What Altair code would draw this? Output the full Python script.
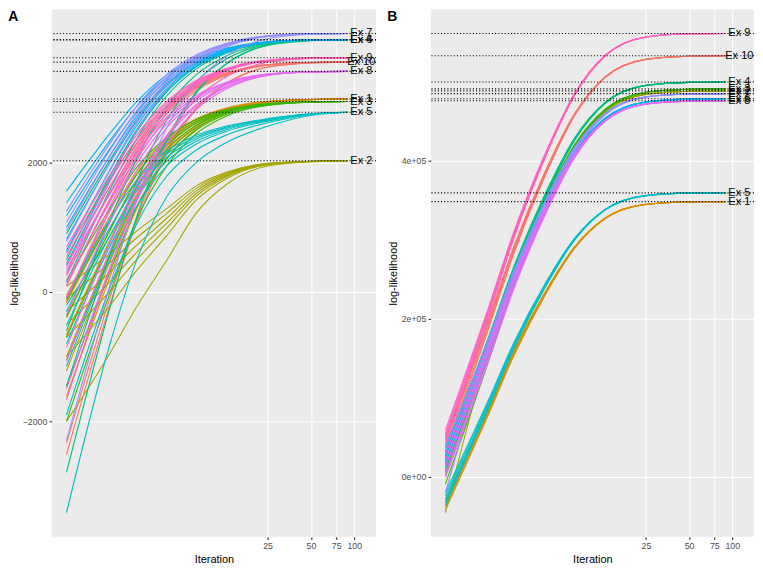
import altair as alt
import pandas as pd

FONT = "Liberation Sans"

ITERS = [1, 2, 3, 5, 8, 13, 25, 50, 90]
EXAMPLES = ["Ex 10", "Ex 1", "Ex 2", "Ex 3", "Ex 4", "Ex 5", "Ex 6", "Ex 7", "Ex 8", "Ex 9"]
PALETTE = ["#F8766D", "#D89000", "#A3A500", "#39B600", "#00BF7D",
           "#00BFC4", "#00B0F6", "#9590FF", "#E76BF3", "#FF62BC"]

# final log-likelihood per example (dotted lines + labels), same order as EXAMPLES
A_FINAL = [3557, 2985, 2030, 2947, 3905, 2782, 3900, 4000, 3414, 3624]
B_FINAL = [532900, 348300, 488500, 491000, 499700, 359400, 478500, 485000, 476000, 561200]

X_MAJOR = [25, 50, 75, 100]
X_MINOR = [12.5, 35.4, 61.2, 86.6]
LABEL_ITER = 112

A_Y_TICKS = [-2000, 0, 2000]
A_Y_LABELS = ["\u22122000", "0", "2000"]
A_Y_MINOR = [-3000, -1000, 1000, 3000]
B_Y_TICKS = [0, 200000, 400000]
B_Y_LABELS = ["0e+00", "2e+05", "4e+05"]
B_Y_MINOR = [100000, 300000, 500000]

# ---- panel A runs (one list per start, values at ITERS)
A_EX10 = [
    [620, 1736, 2323, 2881, 3205, 3395, 3519, 3551, 3557],
    [450, 1631, 2252, 2842, 3184, 3386, 3517, 3551, 3557],
    [280, 1525, 2181, 2803, 3164, 3377, 3514, 3550, 3557],
    [100, 1414, 2105, 2762, 3142, 3367, 3512, 3550, 3557],
    [-150, 1259, 2000, 2704, 3112, 3353, 3509, 3550, 3557],
    [-2340, -99, 1080, 2201, 2849, 3233, 3480, 3545, 3557],
    [-2515, -208, 1007, 2160, 2828, 3223, 3478, 3545, 3557],
]
A_EX1 = [
    [-50, 1164, 1832, 2378, 2681, 2848, 2949, 2979, 2985],
    [-165, 1095, 1788, 2355, 2670, 2843, 2947, 2979, 2985],
    [-400, 954, 1699, 2308, 2646, 2833, 2944, 2978, 2985],
    [-660, 798, 1600, 2256, 2620, 2821, 2941, 2978, 2985],
    [-1000, 594, 1471, 2188, 2586, 2806, 2937, 2977, 2985],
    [-1220, 462, 1387, 2144, 2564, 2796, 2935, 2977, 2985],
    [-1610, 228, 1239, 2066, 2525, 2778, 2930, 2976, 2985],
]
A_EX2 = [
    [90, 594, 924, 1293, 1642, 1855, 1991, 2022, 2030],
    [-100, 454, 816, 1221, 1604, 1838, 1987, 2021, 2030],
    [-300, 306, 702, 1145, 1564, 1820, 1983, 2021, 2030],
    [-500, 158, 588, 1069, 1524, 1802, 1979, 2020, 2030],
    [-700, 10, 474, 993, 1484, 1784, 1975, 2019, 2030],
    [-1000, -212, 303, 879, 1424, 1757, 1969, 2018, 2030],
    [-2000, -952, -267, 499, 1224, 1667, 1949, 2014, 2030],
]
A_EX3 = [
    [180, 1287, 1896, 2394, 2670, 2822, 2914, 2941, 2947],
    [-120, 1107, 1782, 2334, 2640, 2809, 2910, 2941, 2947],
    [-380, 951, 1683, 2282, 2614, 2797, 2907, 2940, 2947],
    [-700, 759, 1561, 2218, 2582, 2783, 2903, 2940, 2947],
    [-1050, 549, 1428, 2148, 2547, 2767, 2899, 2939, 2947],
    [-1460, 303, 1272, 2066, 2506, 2749, 2894, 2938, 2947],
    [-2000, -21, 1067, 1958, 2452, 2724, 2888, 2937, 2947],
]
A_EX4 = [
    [900, 2041, 2642, 3212, 3543, 3738, 3864, 3897, 3905],
    [500, 1793, 2474, 3120, 3495, 3716, 3859, 3896, 3905],
    [150, 1576, 2327, 3040, 3453, 3697, 3854, 3895, 3905],
    [-200, 867, 1564, 2344, 3082, 3534, 3821, 3887, 3905],
    [-600, 1111, 2012, 2867, 3363, 3655, 3844, 3894, 3905],
    [-1460, 578, 1651, 2670, 3259, 3608, 3833, 3892, 3905],
    [-2790, -247, 1092, 2364, 3100, 3535, 3816, 3890, 3905],
]
A_EX5 = [
    [-80, 1122, 1694, 2181, 2424, 2567, 2682, 2759, 2782],
    [-300, 994, 1611, 2135, 2397, 2551, 2674, 2757, 2782],
    [-520, 867, 1527, 2089, 2369, 2534, 2666, 2756, 2782],
    [-800, 704, 1421, 2030, 2334, 2513, 2657, 2753, 2782],
    [-1150, 501, 1288, 1956, 2290, 2487, 2644, 2751, 2782],
    [-1900, 66, 1003, 1799, 2197, 2431, 2618, 2745, 2782],
    [-3414, -812, 428, 1481, 2007, 2317, 2565, 2732, 2782],
]
A_EX6 = [
    [1560, 2450, 2919, 3364, 3622, 3774, 3873, 3898, 3900],
    [1380, 2339, 2843, 3323, 3600, 3764, 3870, 3898, 3900],
    [1180, 2215, 2759, 3277, 3576, 3753, 3868, 3898, 3900],
    [1000, 2103, 2684, 3235, 3555, 3743, 3865, 3897, 3900],
    [820, 1992, 2608, 3194, 3533, 3733, 3863, 3897, 3900],
    [640, 1880, 2533, 3153, 3511, 3724, 3861, 3896, 3900],
    [420, 1744, 2440, 3102, 3485, 3711, 3858, 3896, 3900],
]
A_EX7 = [
    [1250, 2295, 2845, 3368, 3670, 3849, 3964, 3995, 4000],
    [1080, 2190, 2774, 3328, 3650, 3839, 3962, 3994, 4000],
    [950, 2109, 2719, 3298, 3634, 3832, 3960, 3994, 4000],
    [780, 2004, 2648, 3259, 3614, 3823, 3958, 3994, 4000],
    [600, 1892, 2572, 3218, 3592, 3813, 3956, 3993, 4000],
    [300, 1706, 2446, 3149, 3556, 3796, 3952, 3993, 4000],
    [-2300, 94, 1354, 2551, 3244, 3653, 3918, 3987, 4000],
]
A_EX8 = [
    [350, 1514, 2127, 2709, 3046, 3245, 3374, 3408, 3414],
    [150, 1390, 2043, 2663, 3022, 3234, 3372, 3407, 3414],
    [-80, 1248, 1947, 2610, 2995, 3222, 3369, 3407, 3414],
    [-350, 1080, 1833, 2548, 2962, 3207, 3365, 3406, 3414],
    [-860, 764, 1619, 2431, 2901, 3179, 3358, 3405, 3414],
    [-1070, 634, 1531, 2383, 2876, 3167, 3356, 3405, 3414],
    [-1500, 367, 1350, 2284, 2824, 3144, 3350, 3404, 3414],
]
A_EX9 = [
    [700, 1811, 2396, 2951, 3273, 3463, 3586, 3618, 3624],
    [550, 1718, 2333, 2917, 3255, 3455, 3584, 3618, 3624],
    [400, 1625, 2270, 2882, 3237, 3447, 3582, 3618, 3624],
    [250, 1532, 2207, 2848, 3219, 3438, 3580, 3617, 3624],
    [100, 1439, 2144, 2813, 3201, 3430, 3578, 3617, 3624],
    [-100, 1315, 2060, 2767, 3177, 3419, 3576, 3617, 3624],
    [-1665, 345, 1403, 2408, 2989, 3333, 3555, 3613, 3624],
]

# ---- panel B runs
B_EX10 = [
    [50000, 199700, 291500, 388000, 460500, 506300, 528600, 532400, 532900],
    [46000, 196900, 289500, 386800, 459900, 506100, 528500, 532400, 532900],
    [42000, 194200, 287500, 385600, 459300, 505900, 528500, 532400, 532900],
    [37000, 190700, 285000, 384100, 458500, 505600, 528400, 532400, 532900],
    [32000, 187300, 282500, 382600, 457800, 505400, 528400, 532400, 532900],
]
B_EX1 = [
    [-29000, 88000, 159700, 235100, 291700, 327500, 344900, 347900, 348300],
    [-33000, 85200, 157700, 233900, 291100, 327300, 344900, 347900, 348300],
    [-36000, 83100, 156200, 233000, 290700, 327200, 344800, 347900, 348300],
    [-39000, 81100, 154700, 232100, 290200, 327000, 344800, 347900, 348300],
    [-42000, 79000, 153200, 231200, 289800, 326800, 344800, 347900, 348300],
]
B_EX2 = [
    [24000, 168000, 256300, 349200, 418800, 463000, 484300, 488000, 488500],
    [16000, 162500, 252300, 346800, 417600, 462500, 484200, 488000, 488500],
    [9000, 157600, 248800, 344700, 416600, 462100, 484200, 488000, 488500],
    [2000, 152800, 245300, 342600, 415500, 461700, 484100, 488000, 488500],
    [-45500, 157400, 242900, 339000, 413700, 461800, 484200, 488000, 488500],
]
B_EX3 = [
    [26000, 170200, 258500, 351500, 421300, 465400, 486800, 490500, 491000],
    [20000, 166000, 255500, 349700, 420400, 465100, 486800, 490500, 491000],
    [14000, 161900, 252500, 347900, 419500, 464800, 486700, 490500, 491000],
    [6000, 156400, 248500, 345500, 418300, 464300, 486600, 490500, 491000],
    [-9000, 146000, 241000, 341000, 416000, 463500, 486500, 490500, 491000],
]
B_EX4 = [
    [32000, 177000, 265900, 359400, 429500, 474000, 495500, 499200, 499700],
    [27000, 173500, 263400, 357900, 428800, 473700, 495400, 499200, 499700],
    [22000, 170100, 260900, 356400, 428000, 473400, 495400, 499200, 499700],
    [17000, 166600, 258400, 354900, 427300, 473200, 495400, 499200, 499700],
    [10000, 161800, 254900, 352800, 426200, 472800, 495300, 499200, 499700],
]
B_EX5 = [
    [-20000, 97600, 169700, 245600, 302500, 338500, 356000, 359000, 359400],
    [-24000, 94900, 167700, 244400, 301900, 338300, 356000, 359000, 359400],
    [-28000, 92100, 165700, 243200, 301300, 338100, 355900, 359000, 359400],
    [-32000, 89300, 163700, 242000, 300700, 337900, 355900, 359000, 359400],
    [-36000, 86600, 161700, 240800, 300100, 337700, 355800, 359000, 359400],
]
B_EX6 = [
    [38000, 174600, 258300, 346400, 412400, 454300, 474500, 478100, 478500],
    [31000, 169700, 254800, 344300, 411400, 453900, 474500, 478100, 478500],
    [25000, 165600, 251800, 342500, 410500, 453600, 474400, 478000, 478500],
    [17000, 160100, 247800, 340100, 409300, 453100, 474300, 478000, 478500],
    [5000, 151800, 241800, 336500, 407500, 452500, 474200, 478000, 478500],
]
B_EX7 = [
    [36000, 175200, 260500, 350300, 417700, 460300, 481000, 484600, 485000],
    [29000, 170400, 257000, 348200, 416600, 459900, 480900, 484500, 485000],
    [21000, 164800, 253000, 345800, 415400, 459500, 480800, 484500, 485000],
    [13000, 159300, 249000, 343400, 414200, 459000, 480800, 484500, 485000],
    [-20000, 161800, 247700, 338600, 411800, 458200, 480500, 484500, 485000],
]
B_EX8 = [
    [29000, 167600, 252500, 341900, 409000, 451400, 472000, 475600, 476000],
    [21000, 162100, 248500, 339500, 407800, 451000, 471900, 475500, 476000],
    [13000, 156500, 244500, 337100, 406600, 450500, 471800, 475500, 476000],
    [5000, 151000, 240500, 334700, 405400, 450100, 471800, 475500, 476000],
    [-1000, 146900, 237500, 332900, 404500, 449800, 471700, 475500, 476000],
]
B_EX9 = [
    [59000, 214700, 310100, 410500, 485900, 533600, 556700, 560700, 561200],
    [55000, 211900, 308100, 409300, 485300, 533400, 556600, 560700, 561200],
    [51000, 209200, 306100, 408100, 484700, 533100, 556600, 560700, 561200],
    [47000, 206400, 304100, 406900, 484100, 532900, 556600, 560700, 561200],
    [42000, 203000, 301600, 405400, 483300, 532600, 556500, 560700, 561200],
]

A_RUNS = [A_EX10, A_EX1, A_EX2, A_EX3, A_EX4, A_EX5, A_EX6, A_EX7, A_EX8, A_EX9]
B_RUNS = [B_EX10, B_EX1, B_EX2, B_EX3, B_EX4, B_EX5, B_EX6, B_EX7, B_EX8, B_EX9]


def long_table(runs_per_ex):
    rows = []
    for ex, runs in zip(EXAMPLES, runs_per_ex):
        for k, run in enumerate(runs):
            for it, v in zip(ITERS, run):
                rows.append({"ex": ex, "run": f"{ex}/{k}", "iter": it, "ll": v})
    return pd.DataFrame(rows)


def label_expr(values, labels):
    expr = f"'{labels[-1]}'"
    for v, lab in reversed(list(zip(values[:-1], labels[:-1]))):
        expr = f"datum.value == {v} ? '{lab}' : {expr}"
    return expr


def panel(tag, runs, finals, y_domain, y_ticks, y_labels, y_minor, w, h):
    xs = alt.Scale(type="log", domain=[0.79, 141.8], nice=False)
    ys = alt.Scale(domain=y_domain, nice=False, zero=False)
    finals_df = pd.DataFrame({"ex": EXAMPLES, "ll": finals, "iter": LABEL_ITER})

    lines = alt.Chart(long_table(runs)).mark_line(
        strokeWidth=1.1, interpolate="monotone"
    ).encode(
        x=alt.X("iter:Q", scale=xs,
                axis=alt.Axis(values=X_MAJOR, format="d", title="Iteration")),
        y=alt.Y("ll:Q", scale=ys,
                axis=alt.Axis(values=y_ticks, labelExpr=label_expr(y_ticks, y_labels),
                              title="log-likelihood")),
        color=alt.Color("ex:N", scale=alt.Scale(domain=EXAMPLES, range=PALETTE), legend=None),
        detail="run:N",
    )

    rules = alt.Chart(finals_df).mark_rule(
        color="black", strokeWidth=1.1, strokeDash=[1.1, 2.1]
    ).encode(y=alt.Y("ll:Q", scale=ys, axis=None))

    # text layer also carries the minor grid lines
    minor = dict(labels=False, ticks=False, domain=False, title=None,
                 gridWidth=0.55, minExtent=0, maxExtent=0)
    text = alt.Chart(finals_df).mark_text(
        font=FONT, fontSize=11, color="black", align="center", baseline="middle"
    ).encode(
        x=alt.X("iter:Q", scale=xs, axis=alt.Axis(orient="top", values=X_MINOR, **minor)),
        y=alt.Y("ll:Q", scale=ys, axis=alt.Axis(orient="right", values=y_minor, **minor)),
        text="ex:N",
    )

    return alt.layer(lines, rules, text).resolve_axis(
        x="independent", y="independent"
    ).properties(
        width=w, height=h,
        title=alt.TitleParams(tag, anchor="start", frame="bounds", fontSize=14,
                              fontWeight="bold", font=FONT, color="black", offset=-15),
    )


pa = panel("A", A_RUNS, A_FINAL, [-3785, 4371], A_Y_TICKS, A_Y_LABELS, A_Y_MINOR, 326, 530)
pb = panel("B", B_RUNS, B_FINAL, [-75800, 591500], B_Y_TICKS, B_Y_LABELS, B_Y_MINOR, 325, 530)

chart = alt.hconcat(pa, pb, spacing=10).properties(
    padding=0
).configure_view(
    fill="#EBEBEB", stroke=None
).configure_axis(
    domain=False, tickColor="#333333", tickSize=2.75, tickWidth=1.07,
    labelColor="#4D4D4D", labelFontSize=8.8, labelFont=FONT, labelPadding=2.2,
    titleFont=FONT, titleFontSize=11, titleFontWeight="normal", titleColor="black",
    titlePadding=3, gridColor="white", gridWidth=1.07,
)

chart.save("out.html", embed_options={"renderer": "svg", "actions": False})
